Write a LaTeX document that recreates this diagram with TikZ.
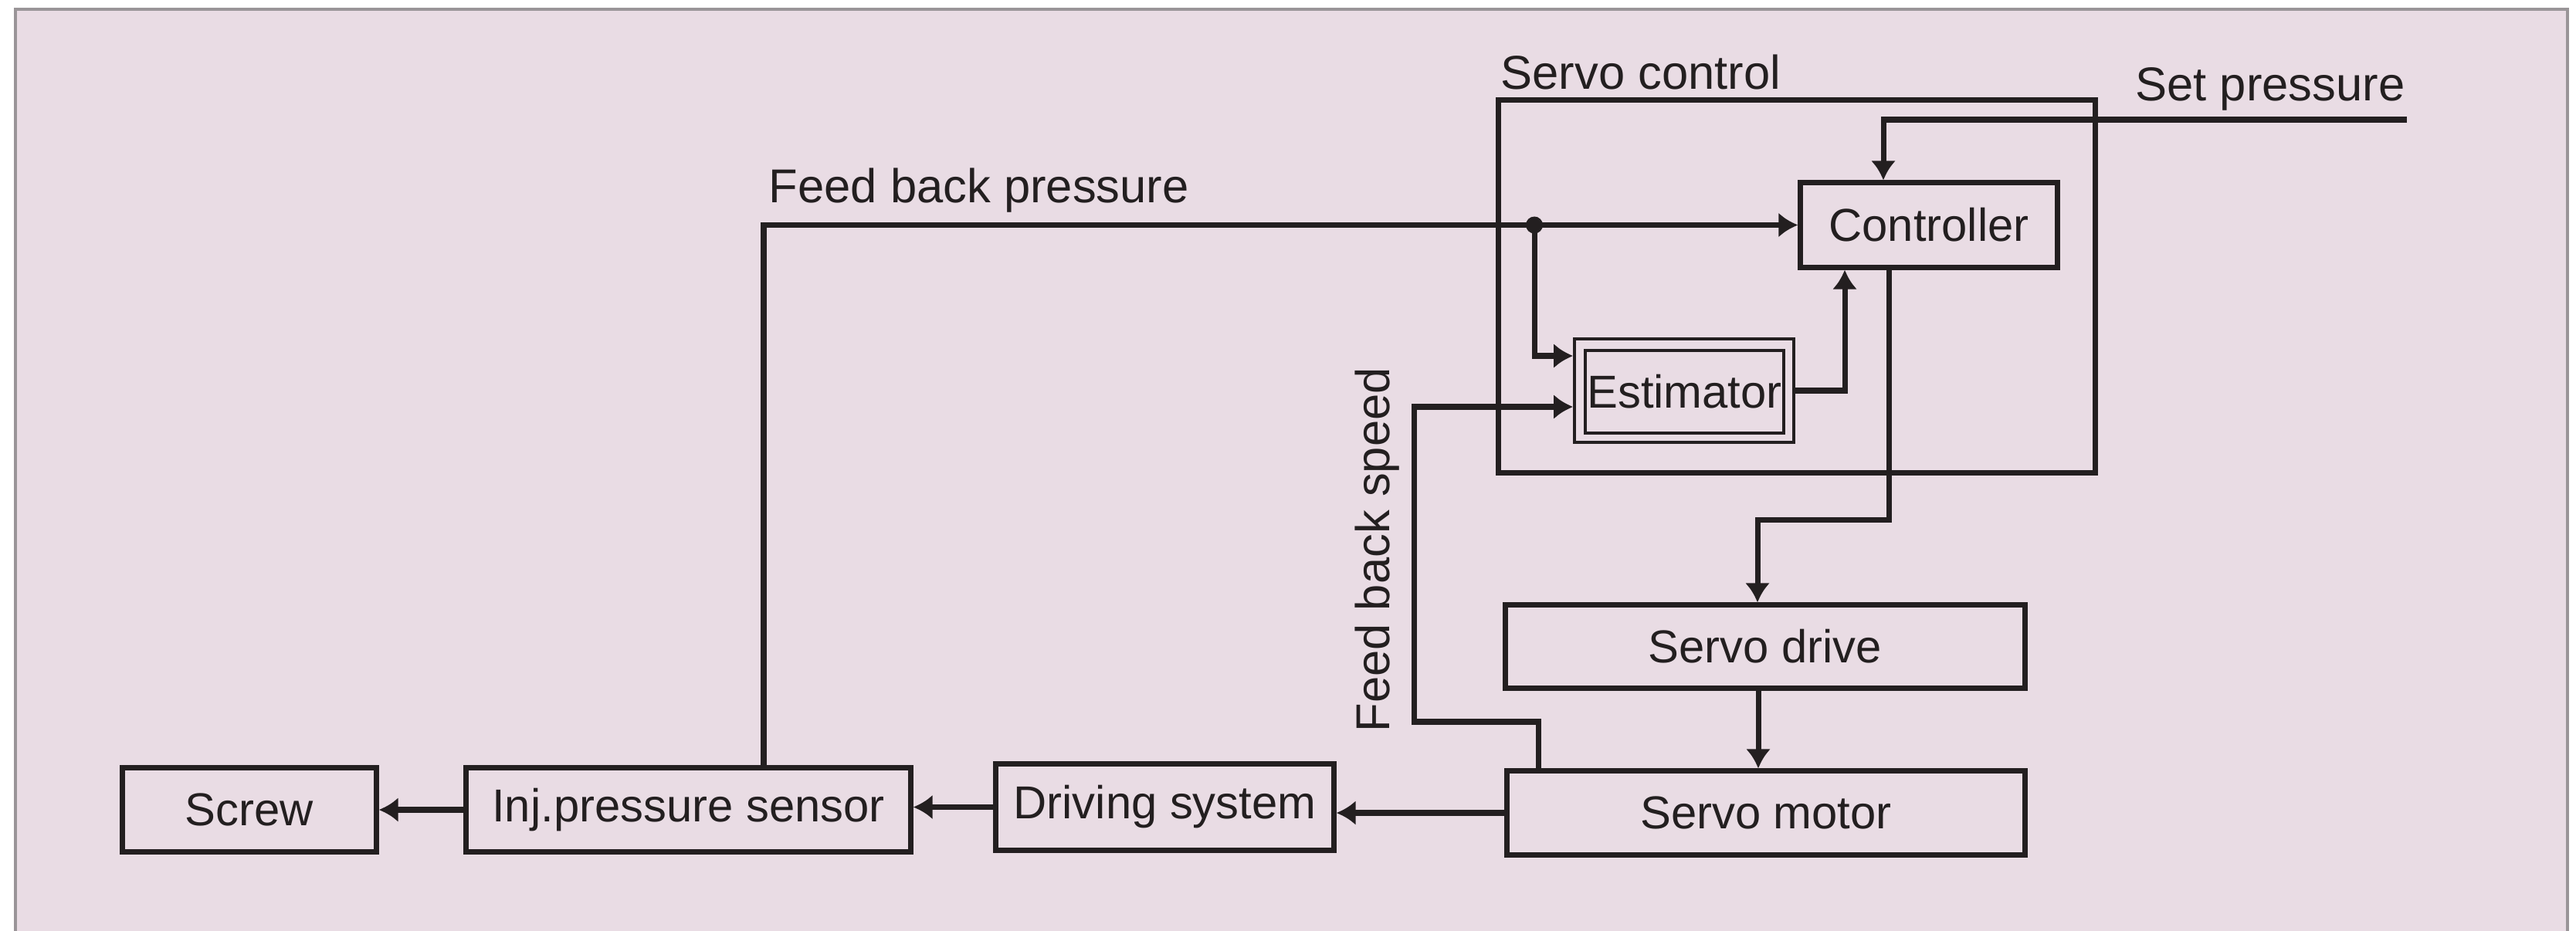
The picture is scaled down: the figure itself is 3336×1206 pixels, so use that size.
\documentclass[tikz,border=0pt]{standalone}
\usepackage{fontspec}
\setmainfont{Liberation Sans}
\usetikzlibrary{arrows.meta,calc}
\definecolor{bg}{HTML}{E9DCE4}
\definecolor{ink}{HTML}{231F20}
\definecolor{framec}{HTML}{9A9598}
\begin{document}
\begin{tikzpicture}[x=0.01cm,y=-0.01cm,
  box/.style={draw=ink, line width=2pt, minimum height=1.08cm, inner sep=0pt, font=\fontsize{17}{20}\selectfont, text=ink},
  arr/.style={draw=ink, line width=2pt, -{Latex[length=0.25cm,width=0.32cm]}},
  lbl/.style={inner sep=0pt, font=\fontsize{17.5}{20}\selectfont, text=ink}]
\useasboundingbox (0,0) rectangle (3336,1206);
\fill[white] (0,0) rectangle (3336,1206);
\fill[bg] (20,12) rectangle (3325,1230);
\draw[framec, line width=1.2pt] (20,1240) -- (20,12) -- (3325,12) -- (3325,1240);

% boxes
\node[box, minimum width=3.28cm] (screw) at (323,1049) {Screw};
\node[box, minimum width=5.75cm] (inj) at (891.5,1049) {Inj.pressure sensor};
\node[box, minimum width=4.37cm, minimum height=1.11cm] (drv) at (1508.5,1045.5) {Driving system};
\node[box, minimum width=6.70cm] (motor) at (2287,1053) {Servo motor};
\node[box, minimum width=6.72cm, minimum height=1.07cm] (drive) at (2286,837.5) {Servo drive};
\node[box, minimum width=3.32cm, minimum height=1.09cm] (ctrl) at (2498,291.5) {Controller};
\node[draw=ink, line width=2pt, minimum width=7.72cm, minimum height=4.82cm, inner sep=0pt] (sc) at (2327,371) {};
\node[draw=ink, line width=1pt, minimum width=2.84cm, minimum height=1.34cm, inner sep=0pt] (est) at (2181,506) {};
\node[box, line width=1pt, minimum width=2.57cm, minimum height=1.07cm] (esti) at (2181.5,507.5) {Estimator};

% labels
\node[lbl, anchor=base west] (lsc) at (1943,115) {Servo control};
\node[lbl, anchor=base east] (lsp) at (3115,130) {Set pressure};
\node[lbl, anchor=base west] (lfp) at (995,262) {Feed back pressure};
\node[lbl, anchor=base west, rotate=90] (lfs) at (1799,949) {Feed back speed};

% connectors
\coordinate (spin) at (3117,155);
\draw[arr] (spin) -| ($(ctrl.north)+(-59,0)$);
\draw[arr] ($(inj.north)+(97.5,0)$) |- (ctrl.west);
\coordinate (j) at (1987,291.5);
\fill[ink] (j) circle (0.11cm);
\draw[arr] (j) |- ($(est.west)+(0,-45)$);
\coordinate (fs) at (1831,935);
\draw[arr] ($(motor.north)+(-295,0)$) |- (fs) |- ($(est.west)+(0,21)$);
\draw[arr] (est.east) -| ($(ctrl.south)+(-109,0)$);
\draw[arr] ($(ctrl.south)+(-52,0)$) -- ++(0,324) -| ($(drive.north)+(-10,0)$);
\draw[arr] ($(drive.south)+(-9,0)$) -- ($(motor.north)+(-10,0)$);
\draw[arr] (motor.west) -- (motor.west -| drv.east);
\draw[arr] (drv.west) -- (drv.west -| inj.east);
\draw[arr] (inj.west) -- (inj.west -| screw.east);
\end{tikzpicture}
\end{document}
